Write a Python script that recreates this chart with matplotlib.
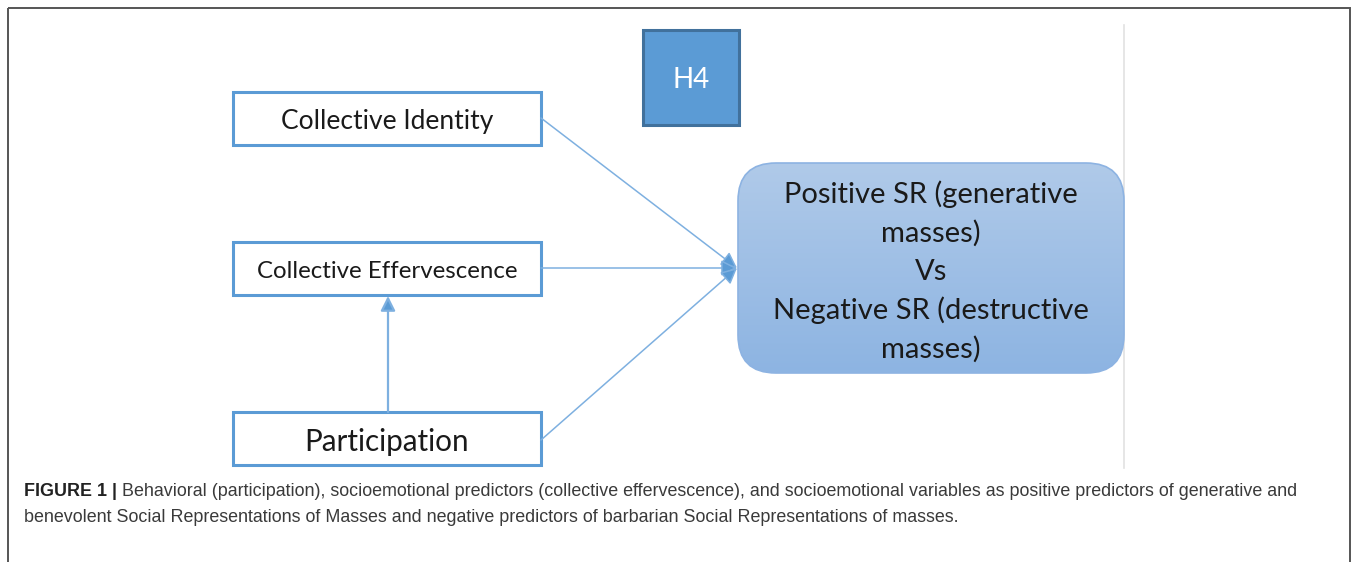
import numpy as np
import matplotlib
matplotlib.use("Agg")
from matplotlib import pyplot as plt
from matplotlib.patches import Rectangle, FancyBboxPatch

# diagram content
left_labels = ["Collective Identity", "Collective Effervescence", "Participation"]
left_sizes = [19, 17.3, 21.3]
hyp_label = "H4"
outcome_lines = ["Positive SR (generative", "masses)", "Vs", "Negative SR (destructive", "masses)"]
caption_bold = "FIGURE 1 |"
caption_rest = [" Behavioral (participation), socioemotional predictors (collective effervescence), and socioemotional variables as positive predictors of generative and",
                "benevolent Social Representations of Masses and negative predictors of barbarian Social Representations of masses."]

# layout in pixels
W, H = 1358, 562
box_x0, box_x1 = 233, 541
box_y = [(92, 145), (242, 295), (412, 465)]
out_x0, out_x1, out_y0, out_y1 = 738, 1124, 163, 373
blue = "#5B9BD5"
line_blue = "#7EB0E0"

fig = plt.figure(figsize=(W / 100, H / 100), dpi=100)
ax = fig.add_axes([0, 0, 1, 1])
ax.set_xlim(0, W)
ax.set_ylim(H, 0)
ax.axis("off")

# outer frame and grey divider
ax.add_patch(Rectangle((8, 8), 1342, 600, fill=False, ec="#555555", lw=1.4))
ax.plot([1124, 1124], [25, 468], color="#e2e2e2", lw=1.2)

# left boxes
for lab, fs, (y0, y1) in zip(left_labels, left_sizes, box_y):
    ax.add_patch(Rectangle((box_x0, y0), box_x1 - box_x0, y1 - y0, fc="white", ec=blue, lw=2.2))
    ax.text((box_x0 + box_x1) / 2, (y0 + y1) / 2 + 3, lab, ha="center", va="center",
            fontsize=fs, family="Lato", color="#1a1a1a")

# H4 box
ax.add_patch(Rectangle((643, 30), 96, 95, fc=blue, ec="#41719C", lw=2.2))
ax.text(691, 80, hyp_label, ha="center", va="center", fontsize=20, family="Lato", color="white")

# outcome box with vertical gradient
patch = FancyBboxPatch((out_x0 + 38, out_y0 + 38), out_x1 - out_x0 - 76, out_y1 - out_y0 - 76,
                       boxstyle="round,pad=38", fc="none", ec="#8DB3E2", lw=1.2, zorder=3)
ax.add_patch(patch)
grad = np.linspace(0, 1, 256).reshape(-1, 1)
cmap = matplotlib.colors.LinearSegmentedColormap.from_list("g", ["#B0CAE9", "#8DB4E2"])
im = ax.imshow(grad, cmap=cmap, extent=(out_x0, out_x1, out_y1, out_y0), aspect="auto", zorder=2)
im.set_clip_path(patch)
ax.set_xlim(0, W)
ax.set_ylim(H, 0)
line_y = [194, 233, 272, 310, 349]
for txt, y in zip(outcome_lines, line_y):
    ax.text(931, y, txt, ha="center", va="center", fontsize=21, family="Lato", color="#1a1a1a", zorder=4)

# arrows into outcome
tip = (737, 268)
for (y0, y1), sy in zip(box_y, [118, 268, 440]):
    ax.annotate("", xy=tip, xytext=(box_x1, sy),
                arrowprops=dict(arrowstyle="-|>", color=line_blue, lw=1.1, mutation_scale=24,
                                shrinkA=0, shrinkB=0, fc=blue), zorder=1)

# participation -> effervescence
ax.annotate("", xy=(388, 296), xytext=(388, 412),
            arrowprops=dict(arrowstyle="-|>", color=line_blue, lw=1.6, mutation_scale=22,
                            shrinkA=0, shrinkB=0, fc=blue), zorder=1)

# caption
fig.canvas.draw()
r = fig.canvas.get_renderer()
t = ax.text(24, 492, caption_bold, ha="left", va="center", fontsize=12.9,
            family="Liberation Sans", weight="bold", color="#222222")
bb = t.get_window_extent(r)
x_rest = bb.x1
ax.text(x_rest, H - 492, caption_rest[0], transform=None, ha="left", va="center",
        fontsize=12.9, family="Liberation Sans", color="#3a3a3a")
ax.text(24, 517, caption_rest[1], ha="left", va="center", fontsize=12.9,
        family="Liberation Sans", color="#3a3a3a")

fig.savefig("out.png", dpi=100)
